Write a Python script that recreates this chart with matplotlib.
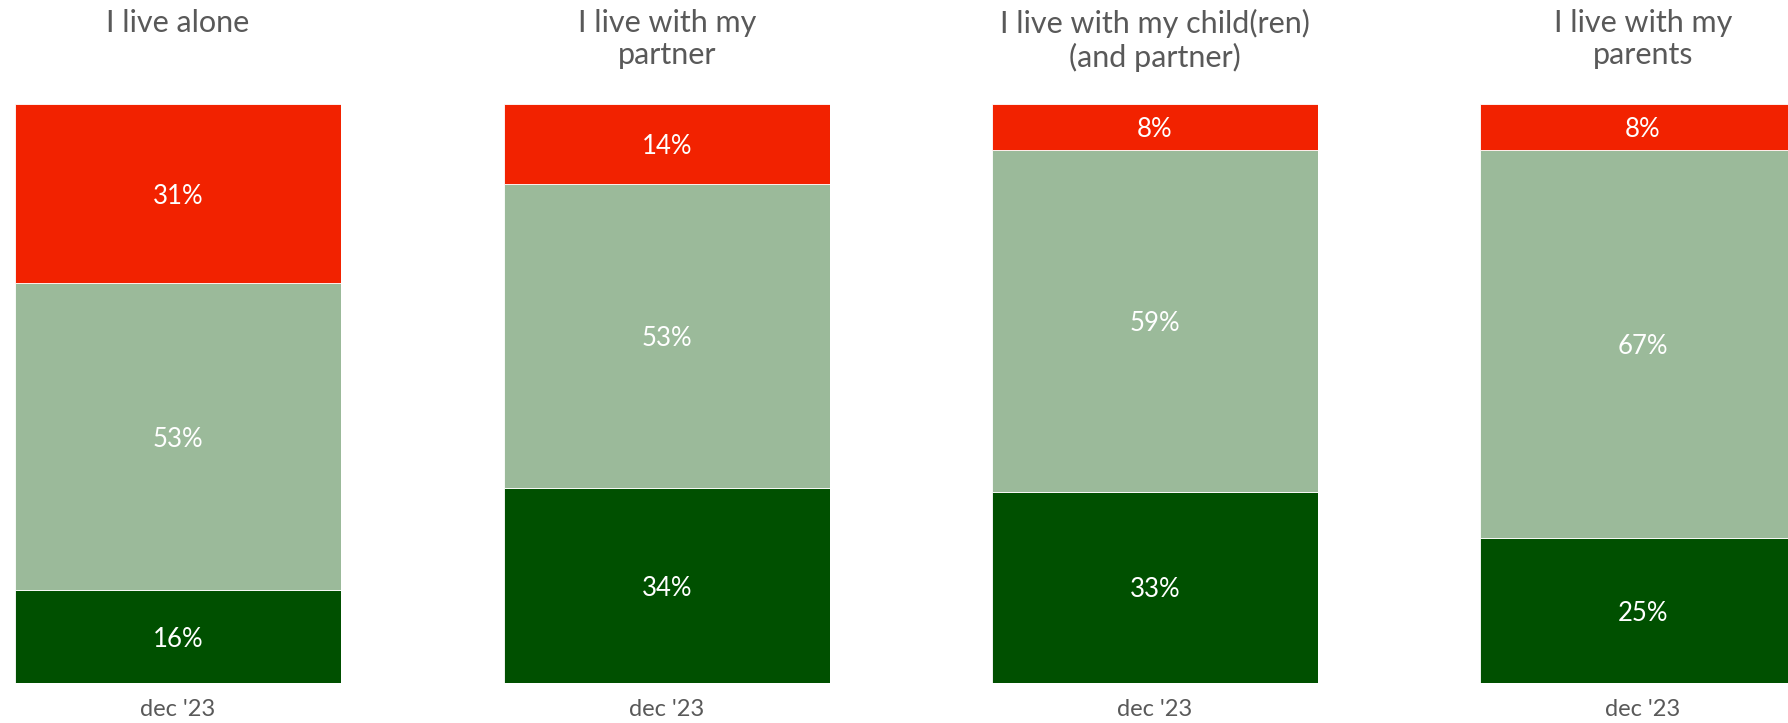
import matplotlib
matplotlib.use("Agg")
import matplotlib.pyplot as plt

plt.rcParams['font.family'] = ['Lato', 'DejaVu Sans']

titles = ["I live alone", "I live with my\npartner", "I live with my child(ren)\n(and partner)", "I live with my\nparents"]
period = "dec '23"
dark = [16, 34, 33, 25]
mid = [53, 53, 59, 67]
top = [31, 14, 8, 8]
colors = ["#005000", "#9BBA9A", "#F22200"]

W, H = 1788, 723
fig = plt.figure(figsize=(W / 100, H / 100), dpi=100)
fig.patch.set_facecolor("white")

bar_left = [15, 504, 992, 1480]
bar_w = 326
y_top, y_bot = 104, 683
ax_h = y_bot - y_top

for i in range(4):
    ax = fig.add_axes([bar_left[i] / W, (H - y_bot) / H, bar_w / W, ax_h / H])
    segs = [dark[i], mid[i], top[i]]
    total = sum(segs)
    bottom = 0
    for v, c in zip(segs, colors):
        ax.bar(0, v, width=1.0, bottom=bottom, color=c, edgecolor="white", linewidth=0.6)
        ax.text(0, bottom + v / 2, f"{v}%", ha="center", va="center_baseline", color="white",
                fontsize=18.5)
        bottom += v
    ax.set_xlim(-0.5, 0.5)
    ax.set_ylim(0, total)
    ax.axis("off")
    ax.text(0.5, 1 + (y_top - 9) / ax_h, titles[i], transform=ax.transAxes, ha="center", va="top",
            fontsize=22, color="#595959", linespacing=1.18)
    ax.text(0.5, -(710 - y_bot) / ax_h, period, transform=ax.transAxes, ha="center", va="center",
            fontsize=17, color="#595959")

fig.savefig("out.png", dpi=100)
